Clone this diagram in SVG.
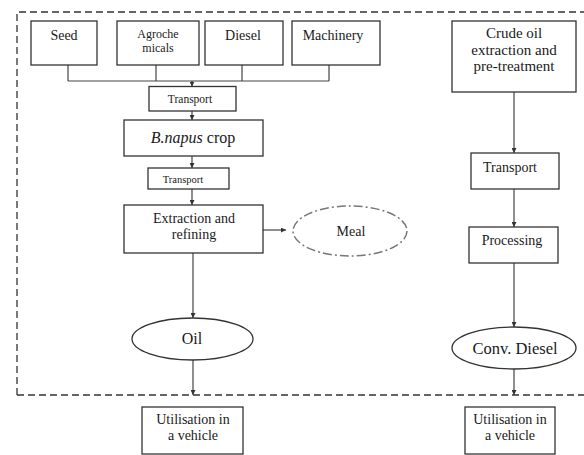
<svg xmlns="http://www.w3.org/2000/svg" width="584" height="455" viewBox="0 0 584 455" font-family="'Liberation Serif', 'Times New Roman', 'DejaVu Serif', serif">
<defs>
<style>
.box{fill:#fff;stroke:#333;stroke-width:1.3}
.ell{fill:#fff;stroke:#333;stroke-width:1.3}
.meal{fill:#fff;stroke:#777;stroke-width:1.5;stroke-dasharray:9 3 2 3}
.ln{fill:none;stroke:#444;stroke-width:1.2}
.ar{fill:none;stroke:#444;stroke-width:1.2;marker-end:url(#ah)}
.bd{fill:none;stroke:#333;stroke-width:1.3;stroke-dasharray:7 4}
text{font-family:'Liberation Serif','Times New Roman','DejaVu Serif',serif;fill:#1a1a1a;text-anchor:middle}
</style>
<marker id="ah" viewBox="0 0 10 10" refX="10" refY="5" markerWidth="5" markerHeight="5" markerUnits="userSpaceOnUse" orient="auto">
<path d="M0,0 L10,5 L0,10 z" fill="#333"/>
</marker>
</defs>
<rect width="584" height="455" fill="#fff"/>
<g id="boundary">
<path class="bd" d="M17,395 L17,12 L584,12"/>
<path class="bd" d="M17,395 L584,395"/>
</g>
<g id="connectors">
<path class="ln" d="M68,65 V81 M156,65 V81 M242,65 V81 M329,65 V81 M68,81 H329"/>
<path class="ar" d="M192,81 V86.5"/>
<path class="ar" d="M192,111 V120"/>
<path class="ar" d="M192,156 V168"/>
<path class="ar" d="M192,189 V205"/>
<path class="ar" d="M263,230 H286"/>
<path class="ar" d="M193,253 V318"/>
<path class="ar" d="M193,360 V395"/>
<path class="ar" d="M514,92 V153"/>
<path class="ar" d="M514,189 V227"/>
<path class="ar" d="M514,263 V327"/>
<path class="ar" d="M514,369 V395"/>
</g>
<g id="seed"><rect class="box" x="31" y="21" width="66" height="44"/><text x="64" y="40" font-size="14">Seed</text></g>
<g id="agrochemicals"><rect class="box" x="117" y="21" width="82" height="44"/><text x="158" y="38" font-size="12">Agroche</text><text x="158" y="52" font-size="12">micals</text></g>
<g id="diesel"><rect class="box" x="205" y="21" width="78" height="44"/><text x="243" y="40" font-size="14">Diesel</text></g>
<g id="machinery"><rect class="box" x="292" y="21" width="88" height="44"/><text x="333" y="40" font-size="14">Machinery</text></g>
<g id="transport1"><rect class="box" x="149" y="86.5" width="87" height="24.5"/><text x="190" y="103" font-size="11.5">Transport</text></g>
<g id="bnapus"><rect class="box" x="124" y="120" width="139" height="36"/><text x="193" y="143" font-size="16"><tspan font-style="italic">B.napus</tspan> crop</text></g>
<g id="transport2"><rect class="box" x="148" y="168" width="81" height="21"/><text x="183" y="183" font-size="10.5">Transport</text></g>
<g id="extraction"><rect class="box" x="124" y="205" width="139" height="48"/><text x="194" y="223" font-size="14">Extraction and</text><text x="194" y="239" font-size="14">refining</text></g>
<g id="meal"><ellipse class="meal" cx="350" cy="231" rx="57" ry="25"/><text x="351" y="236" font-size="14">Meal</text></g>
<g id="oil"><ellipse class="ell" cx="192.5" cy="339" rx="60.5" ry="21"/><text x="192" y="344" font-size="16">Oil</text></g>
<g id="util1"><rect class="box" x="142" y="407" width="101" height="47"/><text x="193" y="424" font-size="14">Utilisation in</text><text x="193" y="440" font-size="14">a vehicle</text></g>
<g id="crude"><rect class="box" x="452" y="21" width="124" height="71"/><text x="514" y="38" font-size="15">Crude oil</text><text x="514" y="55" font-size="15">extraction and</text><text x="514" y="71" font-size="15">pre-treatment</text></g>
<g id="transport3"><rect class="box" x="471" y="153" width="88" height="36"/><text x="510" y="172" font-size="14">Transport</text></g>
<g id="processing"><rect class="box" x="469" y="227" width="89" height="36"/><text x="512" y="245" font-size="14">Processing</text></g>
<g id="convdiesel"><ellipse class="ell" cx="514" cy="348" rx="62" ry="21"/><text x="515" y="354" font-size="16.5">Conv. Diesel</text></g>
<g id="util2"><rect class="box" x="465" y="407" width="90" height="47"/><text x="510" y="424" font-size="14">Utilisation in</text><text x="510" y="440" font-size="14">a vehicle</text></g>
</svg>
